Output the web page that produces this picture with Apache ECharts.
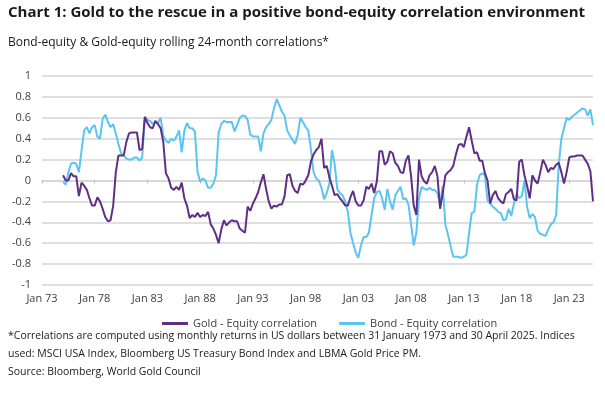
<!DOCTYPE html>
<html><head><meta charset="utf-8">
<script src="https://cdn.jsdelivr.net/npm/echarts@6/dist/echarts.min.js"></script>
<style>html,body{margin:0;padding:0;background:#fff}#c{width:605px;height:393px}</style>
</head><body><div id="c"></div>
<script>
// Quarterly axis from Jan 1973 to Apr 2025; rolling correlations begin Jan 1975
const startYear = 1973;
const endYear = 2025;
const endQuarterCount = 2; // Jan, Apr of 2025
const quarterMonths = ['Jan', 'Apr', 'Jul', 'Oct'];
const firstDataIndex = 8; // Jan 1975

// Gold - Equity rolling 24-month correlation, quarterly from Jan 1975 to Apr 2025
const goldEquity = [
  0.05, 0.0, 0.0, 0.07,
  0.04, 0.04, -0.15, -0.02,
  -0.05, -0.09, -0.17, -0.24,
  -0.24, -0.16, -0.2, -0.27,
  -0.35, -0.39, -0.38, -0.24,
  0.08, 0.24, 0.24, 0.24,
  0.37, 0.45, 0.46, 0.46,
  0.46, 0.29, 0.3, 0.61,
  0.55, 0.51, 0.5, 0.57,
  0.54, 0.5, 0.37, 0.07,
  0.02, -0.07, -0.09, -0.06,
  -0.09, -0.02, -0.17, -0.24,
  -0.36, -0.33, -0.35, -0.31,
  -0.35, -0.33, -0.34, -0.3,
  -0.42, -0.46, -0.52, -0.6,
  -0.47, -0.38, -0.43, -0.4,
  -0.38, -0.39, -0.39, -0.46,
  -0.48, -0.5, -0.25, -0.29,
  -0.22, -0.17, -0.11, -0.02,
  0.06, -0.08, -0.2, -0.27,
  -0.24, -0.25, -0.23, -0.23,
  -0.15, 0.05, 0.06, -0.05,
  -0.1, -0.12, -0.03, -0.04,
  0.0, 0.05, 0.18, 0.25,
  0.29, 0.32, 0.4, 0.12,
  0.14, 0.03, -0.05, -0.14,
  -0.13, -0.17, -0.2, -0.24,
  -0.24, -0.16, -0.1, -0.2,
  -0.24, -0.24, -0.19, -0.06,
  -0.08, -0.03, -0.12, -0.01,
  0.28, 0.28, 0.15, 0.18,
  0.28, 0.26, 0.17, 0.14,
  0.08, 0.07, 0.19, 0.24,
  0.04, -0.24, -0.33, 0.2,
  0.04, -0.01, -0.03, 0.05,
  0.08, 0.14, 0.04, -0.27,
  -0.12, 0.05, 0.08, 0.1,
  0.14, 0.25, 0.34, 0.35,
  0.32, 0.42, 0.51, 0.38,
  0.26, 0.27, 0.19, 0.19,
  0.07, 0.0, -0.22, -0.14,
  -0.1, -0.17, -0.2, -0.22,
  -0.13, -0.11, -0.08, -0.18,
  -0.19, 0.18, 0.2, 0.05,
  -0.05, -0.17, 0.05, 0.0,
  -0.03, 0.08, 0.2, 0.15,
  0.08, 0.12, 0.11, 0.15,
  0.17, 0.08, -0.03, 0.08,
  0.22, 0.23, 0.23, 0.24,
  0.24, 0.24, 0.2, 0.16,
  0.09, -0.2
];

// Bond - Equity rolling 24-month correlation, quarterly from Jan 1975 to Apr 2025
const bondEquity = [
  -0.01, -0.04, 0.08, 0.16,
  0.17, 0.16, 0.08, 0.29,
  0.48, 0.51, 0.45, 0.51,
  0.53, 0.42, 0.4, 0.59,
  0.63, 0.56, 0.51, 0.54,
  0.45, 0.35, 0.26, 0.24,
  0.21, 0.2, 0.2, 0.22,
  0.22, 0.19, 0.22, 0.6,
  0.58, 0.57, 0.54, 0.56,
  0.55, 0.6, 0.43, 0.38,
  0.36, 0.4, 0.38, 0.42,
  0.48, 0.27, 0.48, 0.55,
  0.5, 0.5, 0.47, 0.08,
  -0.01, 0.02, 0.0, -0.07,
  -0.07, -0.03, 0.05, 0.46,
  0.54, 0.57, 0.56, 0.56,
  0.56, 0.47, 0.53, 0.6,
  0.62, 0.62, 0.58, 0.44,
  0.42, 0.42, 0.42, 0.28,
  0.45, 0.51, 0.54, 0.58,
  0.69, 0.78, 0.72, 0.66,
  0.62, 0.48, 0.43, 0.39,
  0.35, 0.44, 0.6, 0.56,
  0.51, 0.48, 0.3, 0.08,
  0.02, 0.0, -0.07, -0.18,
  -0.12, -0.03, 0.29, 0.16,
  -0.08, -0.12, -0.14, -0.2,
  -0.3, -0.5, -0.6, -0.69,
  -0.74, -0.62, -0.54, -0.54,
  -0.5, -0.33, -0.17, -0.11,
  -0.1, -0.17, -0.28, -0.08,
  -0.2, -0.28, -0.14, -0.1,
  -0.06, -0.18, -0.17, -0.23,
  -0.42, -0.62, -0.5, -0.17,
  -0.06, -0.08, -0.09, -0.07,
  -0.09, -0.09, -0.12, -0.23,
  -0.05, -0.42, -0.52, -0.63,
  -0.73, -0.73, -0.73, -0.74,
  -0.73, -0.71, -0.5, -0.31,
  -0.3, -0.04, 0.05, 0.07,
  0.05, -0.19, -0.22, -0.25,
  -0.27, -0.3, -0.31, -0.38,
  -0.37, -0.27, -0.34, -0.22,
  -0.13, -0.17, -0.15, 0.0,
  -0.25, -0.36, -0.32, -0.35,
  -0.48, -0.51, -0.52, -0.53,
  -0.47, -0.42, -0.4, -0.33,
  0.15, 0.4, 0.5, 0.6,
  0.58, 0.61, 0.63, 0.65,
  0.67, 0.69, 0.68, 0.62,
  0.68, 0.53
];

const yTicks = { min: -1, max: 1, interval: 0.2 };
const labelEvery = 20; // every 5 years (20 quarters)

const titleText = 'Chart 1: Gold to the rescue in a positive bond-equity correlation environment';
const subtitleText = 'Bond-equity & Gold-equity rolling 24-month correlations*';
const footnoteLines = [
  '*Correlations are computed using monthly returns in US dollars between 31 January 1973 and 30 April 2025. Indices',
  'used: MSCI USA Index, Bloomberg US Treasury Bond Index and LBMA Gold Price PM.',
  'Source: Bloomberg, World Gold Council'
];
const seriesNames = ['Gold - Equity correlation', 'Bond - Equity correlation'];

// build quarterly categories
const categories = [];
for (let y = startYear; y <= endYear; y++) {
  for (let q = 0; q < 4; q++) {
    if (y === endYear && q >= endQuarterCount) break;
    categories.push(quarterMonths[q] + ' ' + String(y).slice(2));
  }
}
const lead = new Array(firstDataIndex).fill(null);
const goldData = lead.concat(goldEquity);
const bondData = lead.concat(bondEquity);

const FONT = 'Open Sans';
const chart = echarts.init(document.getElementById('c'), null, { renderer: 'canvas' });

const graphics = [
  { type: 'text', left: 8, top: 5, style: { text: titleText, font: 'bold 15px "' + FONT + '"', fill: '#1a1a1a' } },
  { type: 'text', left: 8, top: 37, style: { text: subtitleText, font: '12px "' + FONT + '"', fill: '#1a1a1a' } }
];
footnoteLines.forEach((t, i) => {
  graphics.push({ type: 'text', left: 8, top: 331 + i * 18, style: { text: t, font: '10.5px "' + FONT + '"', fill: '#1a1a1a' } });
});

chart.setOption({
  animation: false,
  textStyle: { fontFamily: FONT },
  graphic: graphics,
  grid: { left: 42, right: 12, top: 76, bottom: 108, containLabel: false },
  legend: {
    data: seriesNames,
    left: 157,
    top: 313,
    icon: 'rect',
    itemWidth: 26,
    itemHeight: 3,
    itemGap: 22,
    textStyle: { fontSize: 11, color: '#404040', fontFamily: FONT }
  },
  xAxis: [
    {
      type: 'category',
      data: categories,
      boundaryGap: false,
      axisLine: { show: false, onZero: false },
      axisTick: { show: false },
      axisLabel: { interval: labelEvery - 1, color: '#404040', fontSize: 11, margin: 8, fontFamily: FONT },
      splitLine: { show: false }
    },
    {
      type: 'category',
      data: categories,
      boundaryGap: false,
      position: 'bottom',
      axisLine: { show: true, onZero: true, lineStyle: { color: '#d4d4d4', width: 1.5 } },
      axisTick: { show: true, interval: labelEvery - 1, length: 3, lineStyle: { color: '#bdbdbd' } },
      axisLabel: { show: false },
      splitLine: { show: false }
    }
  ],
  yAxis: {
    type: 'value',
    min: yTicks.min,
    max: yTicks.max,
    interval: yTicks.interval,
    axisLine: { show: false },
    axisTick: { show: false },
    axisLabel: { color: '#404040', fontSize: 11, margin: 11, fontFamily: FONT,
      formatter: v => String(Math.round(v * 10) / 10) },
    splitLine: { lineStyle: { color: '#d4d4d4', width: 1.5 } }
  },
  series: [
    {
      name: seriesNames[1], type: 'line', data: bondData, xAxisIndex: 0,
      showSymbol: false, symbol: 'none', connectNulls: false,
      lineStyle: { color: '#5BC5F2', width: 2 }, itemStyle: { color: '#5BC5F2' }, z: 2
    },
    {
      name: seriesNames[0], type: 'line', data: goldData, xAxisIndex: 0,
      showSymbol: false, symbol: 'none', connectNulls: false,
      lineStyle: { color: '#5F2F86', width: 2 }, itemStyle: { color: '#5F2F86' }, z: 3
    }
  ]
});
</script></body></html>
